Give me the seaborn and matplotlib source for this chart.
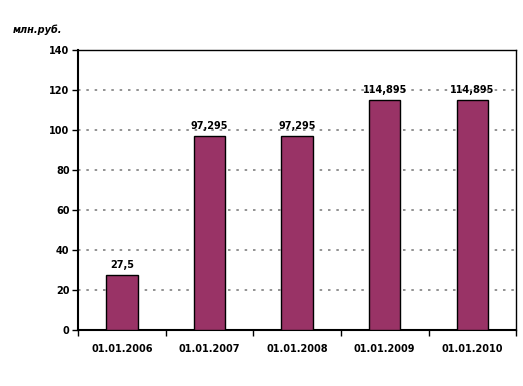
import matplotlib
matplotlib.use('Agg')
import matplotlib.pyplot as plt
import seaborn as sns
import pandas as pd

# данные
dates = ['01.01.2006', '01.01.2007', '01.01.2008', '01.01.2009', '01.01.2010']
values = [27.5, 97.295, 97.295, 114.895, 114.895]
labels = ['27,5', '97,295', '97,295', '114,895', '114,895']
yticks = [0, 20, 40, 60, 80, 100, 120, 140]

df = pd.DataFrame({'date': dates, 'value': values})

sns.set_style('white')
plt.rcParams['font.family'] = ['DejaVu Sans']
plt.rcParams['text.color'] = 'black'
plt.rcParams['xtick.color'] = 'black'
plt.rcParams['ytick.color'] = 'black'

fig = plt.figure(figsize=(5.23, 3.86), dpi=100)
ax = fig.add_axes([0.149, 0.145, 0.838, 0.725])

sns.barplot(data=df, x='date', y='value', color='#993366', saturation=1,
            width=0.36, edgecolor='black', linewidth=1, ax=ax, zorder=3)

ax.set_ylim(0, 140)
ax.set_xlim(-0.5, len(dates) - 0.5)
ax.set_yticks(yticks)
ax.set_yticklabels([str(t) for t in yticks], fontsize=7, fontweight='bold', color='black')
ax.set_xticks(range(len(dates)))
ax.set_xticklabels(dates, fontsize=7, fontweight='bold', color='black')
ax.set_xticks([i - 0.5 for i in range(len(dates) + 1)], minor=True)
ax.set_xlabel('')
ax.set_ylabel('')
for t in yticks[1:-1]:
    ax.axhline(t, color='#808080', linestyle=(0, (1.5, 3.5)), linewidth=1.2, zorder=1)

for i, (v, lab) in enumerate(zip(values, labels)):
    ax.text(i, v + 2.5, lab, ha='center', va='bottom', fontsize=7,
            fontweight='bold', color='black')

for s in ax.spines.values():
    s.set_color('black')
    s.set_linewidth(1)
ax.spines['bottom'].set_linewidth(1.5)
ax.spines['left'].set_linewidth(1.5)
ax.tick_params(axis='y', length=4, width=1, direction='out', left=True, pad=2)
ax.tick_params(axis='x', which='major', length=0, pad=10)
ax.tick_params(axis='x', which='minor', length=4, width=1, direction='out', bottom=True)

fig.text(0.025, 0.915, 'млн.руб.', fontsize=7, fontweight='bold', fontstyle='italic',
         color='black')

fig.savefig('out.png', dpi=100)
